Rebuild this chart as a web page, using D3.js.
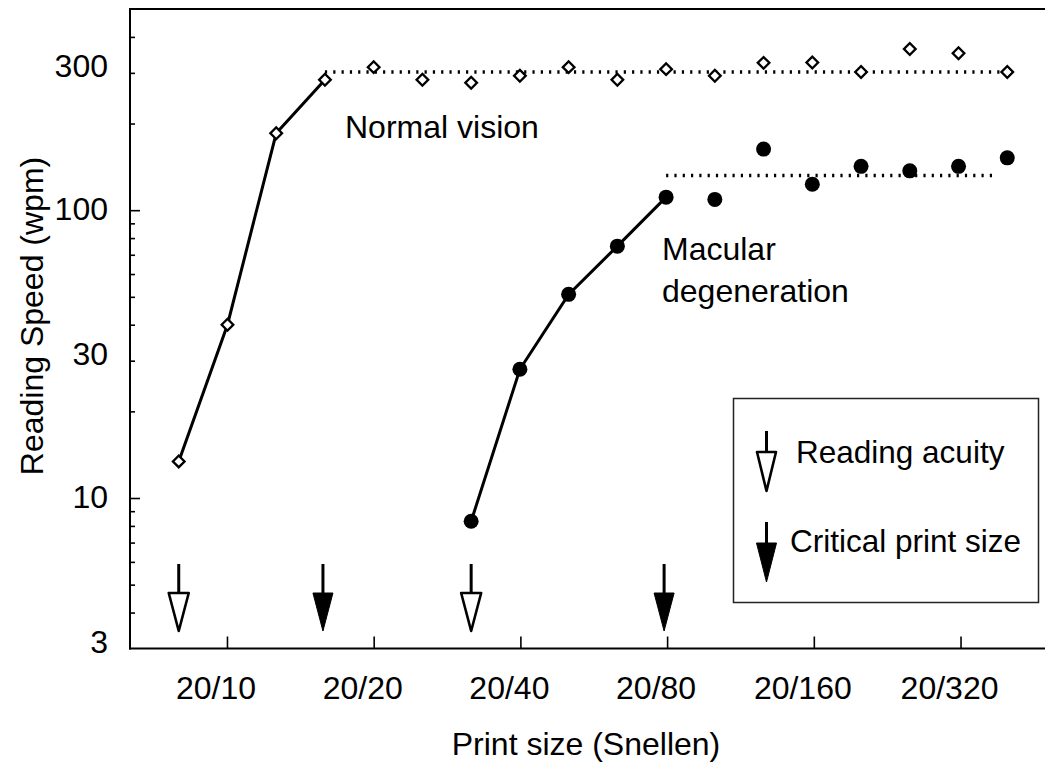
<!DOCTYPE html>
<html><head><meta charset="utf-8">
<script src="https://cdn.jsdelivr.net/npm/d3@7"></script>
<style>
html,body{margin:0;padding:0;background:#fff;}
text{font-family:"Liberation Sans",Arial,Helvetica,sans-serif;fill:#000;}
</style></head>
<body>
<svg id="chart" width="1045" height="765"></svg>
<script>
// ---------- data ----------
// print size in logMAR (20/20 = 0); Snellen label = 20 / (20*10^logMAR)
const logMAR = [-0.4,-0.3,-0.2,-0.1,0,0.1,0.2,0.3,0.4,0.5,0.6,0.7,0.8,0.9,1.0,1.1,1.2,1.3];
const normalWpm = [13.4,40,185,284,314,284,277,293,314,284,309,293,325,326,302,363,351,302];
const mdLogMAR = [0.2,0.3,0.4,0.5,0.6,0.7,0.8,0.9,1.0,1.1,1.2,1.3];
const mdWpm = [8.3,28,51,75,111,109,163,123,142,137,142,152];
const normalCurveEnd = -0.1;     // solid line up to critical print size
const mdCurveEnd = 0.6;
const normalPlateau = [-0.1, 1.31, 302];
const mdPlateau = [0.6, 1.28, 132];
const readingAcuity = [-0.4, 0.2];
const criticalPrintSize = [-0.1, 0.6];
const xTickLogMAR = [-0.30103, 0, 0.30103, 0.60206, 0.90309, 1.20412];
const xTickLabels = ["20/10","20/20","20/40","20/80","20/160","20/320"];
const yTicks = [4,5,6,7,8,9,10,20,30,40,50,60,70,80,90,100,200,300,400];
const yTickLabels = [3,10,30,100,300];

// ---------- scales ----------
const svg = d3.select("#chart");
const x = d3.scaleLinear().domain([-0.5, 1.4]).range([130, 1056]);
const y = d3.scaleLog().domain([3, 500]).range([648.5, 9]);
const FS = 32;
const isDecade = d => Math.abs(Math.log10(d) - Math.round(Math.log10(d))) < 1e-9;

// frame
svg.append("line").attr("x1", x(-0.5)).attr("x2", 1045).attr("y1", y(500)).attr("y2", y(500))
  .attr("stroke","#000").attr("stroke-width",2);

// y axis
const yAxis = d3.axisRight(y).tickValues(yTicks).tickSize(0).tickFormat("");
const gy = svg.append("g").attr("transform",`translate(${x(-0.5)},0)`).call(yAxis);
gy.select(".domain").remove();
svg.append("line").attr("x1",x(-0.5)).attr("x2",x(-0.5)).attr("y1",y(500)-1).attr("y2",y(3)+1)
  .attr("stroke","#000").attr("stroke-width",2);
gy.selectAll(".tick line")
  .attr("x2", d => isDecade(d) ? 10 : 5)
  .attr("stroke","#000").attr("stroke-width",1.6);
svg.selectAll(".ylab").data(yTickLabels).enter().append("text")
  .attr("x",108).attr("y", d => y(d) + (isDecade(d) ? 10 : 4))
  .attr("text-anchor","end").attr("font-size",FS).text(d => d);

// x axis
const xAxis = d3.axisTop(x).tickValues(xTickLogMAR).tickSize(12).tickFormat("");
const gx = svg.append("g").attr("transform",`translate(0,${y(3)})`).call(xAxis);
gx.select(".domain").remove();
gx.selectAll(".tick line").attr("stroke","#000").attr("stroke-width",1.6);
svg.append("line").attr("x1",x(-0.5)-1).attr("x2",1045).attr("y1",y(3)).attr("y2",y(3))
  .attr("stroke","#000").attr("stroke-width",2);
svg.selectAll(".xlab").data(xTickLabels).enter().append("text")
  .attr("x",(d,i) => x(xTickLogMAR[i]) - 11).attr("y",699)
  .attr("text-anchor","middle").attr("font-size",FS).text(d => d);

// axis titles
svg.append("text").attr("x",586).attr("y",755).attr("text-anchor","middle")
  .attr("font-size",FS).text("Print size (Snellen)");
svg.append("text").attr("transform",`translate(43,316) rotate(-90)`).attr("text-anchor","middle")
  .attr("font-size",FS).text("Reading Speed (wpm)");

// plateau dotted lines
[normalPlateau, mdPlateau].forEach(p => {
  svg.append("line").attr("x1",x(p[0])).attr("x2",x(p[1])).attr("y1",y(p[2])).attr("y2",y(p[2]))
    .attr("stroke","#000").attr("stroke-width",3.3).attr("stroke-dasharray","2.2,6.1");
});

// curves
const normalPts = logMAR.map((l,i)=>[l,normalWpm[i]]);
const mdPts = mdLogMAR.map((l,i)=>[l,mdWpm[i]]);
const line = d3.line().x(d=>x(d[0])).y(d=>y(d[1]));
svg.append("path").datum(normalPts.filter(d=>d[0]<=normalCurveEnd+1e-9)).attr("d",line)
  .attr("fill","none").attr("stroke","#000").attr("stroke-width",3);
svg.append("path").datum(mdPts.filter(d=>d[0]<=mdCurveEnd+1e-9)).attr("d",line)
  .attr("fill","none").attr("stroke","#000").attr("stroke-width",3);

// markers
const diamond = d3.symbol().type(d3.symbolSquare).size(68);
svg.selectAll(".nv").data(normalPts).enter().append("path")
  .attr("d",diamond).attr("transform",d=>`translate(${x(d[0])},${y(d[1])}) rotate(45)`)
  .attr("fill","#fff").attr("stroke","#000").attr("stroke-width",2.3);
svg.selectAll(".md").data(mdPts).enter().append("circle")
  .attr("cx",d=>x(d[0])).attr("cy",d=>y(d[1])).attr("r",7.5).attr("fill","#000");

// labels
svg.append("text").attr("x",345).attr("y",138).attr("font-size",FS).text("Normal vision");
svg.append("text").attr("x",662).attr("y",260).attr("font-size",FS).text("Macular");
svg.append("text").attr("x",662).attr("y",301.5).attr("font-size",FS).text("degeneration");

// arrows
function arrow(g, cx, top, headTop, tip, halfW, filled) {
  g.append("line").attr("x1",cx).attr("x2",cx).attr("y1",top).attr("y2",headTop + (filled?2:0))
    .attr("stroke","#000").attr("stroke-width",3);
  g.append("path")
    .attr("d",`M${cx-halfW},${headTop}L${cx+halfW},${headTop}L${cx},${tip}Z`)
    .attr("fill", filled ? "#000" : "#fff").attr("stroke","#000")
    .attr("stroke-width", filled ? 1 : 2.6).attr("stroke-linejoin","round");
}
readingAcuity.forEach(l => arrow(svg, x(l), 564, 593, 631, 10, false));
criticalPrintSize.forEach(l => arrow(svg, x(l) - 2, 564, 593, 631, 10, true));

// legend
svg.append("rect").attr("x",733.5).attr("y",398.5).attr("width",305).attr("height",204)
  .attr("fill","none").attr("stroke","#222").attr("stroke-width",1.5);
arrow(svg, 766.5, 431, 452, 491, 9.5, false);
arrow(svg, 766.5, 522, 543, 582, 10, true);
svg.append("text").attr("x",796).attr("y",463).attr("font-size",FS-0.5).text("Reading acuity");
svg.append("text").attr("x",790).attr("y",552).attr("font-size",FS-0.5).text("Critical print size");
</script>
</body></html>
